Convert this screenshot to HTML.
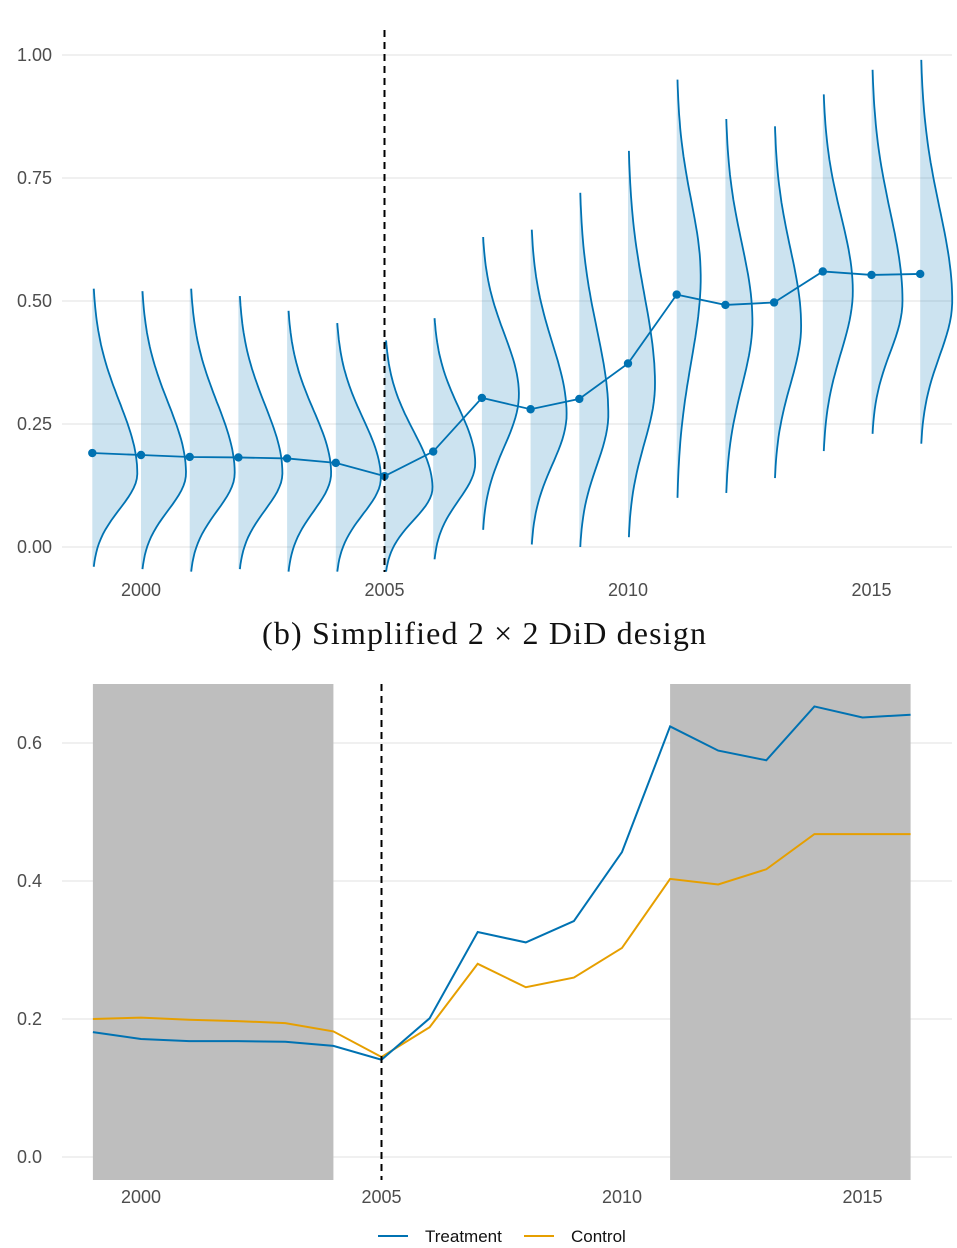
<!DOCTYPE html>
<html><head><meta charset="utf-8"><style>
body{margin:0;background:#fff;}
svg{display:block;font-family:"Liberation Sans",sans-serif;}
</style></head><body>
<svg width="957" height="1248" viewBox="0 0 957 1248">
<g id="top"></g>
<text x="262" y="644" textLength="444" lengthAdjust="spacing" font-family="'Liberation Serif',serif" font-size="32" fill="#111">(b) Simplified 2 × 2 DiD design</text>
<g id="bot"></g>
</svg>
<script>
const NS='http://www.w3.org/2000/svg';
const years=[1999,2000,2001,2002,2003,2004,2005,2006,2007,2008,2009,2010,2011,2012,2013,2014,2015,2016];
const means=[0.191,0.187,0.183,0.182,0.180,0.171,0.144,0.194,0.303,0.280,0.301,0.373,0.513,0.492,0.497,0.560,0.553,0.555];
const densMax=[0.525,0.52,0.525,0.51,0.48,0.455,0.42,0.465,0.63,0.645,0.72,0.805,0.95,0.87,0.855,0.92,0.97,0.99];
const densMin=[-0.04,-0.045,-0.05,-0.045,-0.05,-0.05,-0.05,-0.025,0.035,0.005,0.0,0.02,0.1,0.11,0.14,0.195,0.23,0.21];
const densPeak=[0.15,0.15,0.15,0.15,0.15,0.14,0.12,0.17,0.31,0.27,0.27,0.33,0.55,0.46,0.45,0.52,0.50,0.50];
const densWidth=[45,45,45,44,44,45,48,42,37,36,29,27,24,27,27,30,31,32];
const topTicks=[0,0.25,0.5,0.75,1.0];
const topTickLabels=['0.00','0.25','0.50','0.75','1.00'];
const xTicks=[2000,2005,2010,2015];
const treatment=[0.181,0.171,0.168,0.168,0.167,0.161,0.141,0.201,0.326,0.311,0.342,0.442,0.624,0.589,0.575,0.653,0.637,0.641];
const control=[0.200,0.202,0.199,0.197,0.194,0.182,0.145,0.188,0.280,0.246,0.260,0.303,0.403,0.395,0.417,0.468,0.468,0.468];
const botTicks=[0,0.2,0.4,0.6];
const botTickLabels=['0.0','0.2','0.4','0.6'];
const shadeRanges=[[1999,2004],[2011,2016]];

function el(p,tag,a){const e=document.createElementNS(NS,tag);for(const k in a)e.setAttribute(k,a[k]);p.appendChild(e);return e;}
const BLUE='#0072B2',ORANGE='#E69F00';

const T=document.getElementById('top');
const tx=y=>141+(y-2000)*48.7;
const ty=v=>547-v*492;
topTicks.forEach((v,i)=>{
  const g=el(T,'line',{x1:62,x2:952,y1:ty(v),y2:ty(v),stroke:'#ebebeb','stroke-width':1.5});
  
  const t=el(T,'text',{x:52,y:ty(v)+6,'text-anchor':'end','font-size':18,fill:'#4d4d4d'});
  t.textContent=topTickLabels[i];
  
});
xTicks.forEach(y=>{
  const t=el(T,'text',{x:tx(y),y:596,'text-anchor':'middle','font-size':18,fill:'#4d4d4d'});
  t.textContent=y;
  
});
years.forEach((yr,i)=>{
  const x0=tx(yr),pts=[];
  const N=60;
  for(let k=0;k<=N;k++){
    const v=densMax[i]-(densMax[i]-densMin[i])*k/N;
    const sd=v>densPeak[i]?(densMax[i]-densPeak[i])/2.6:(densPeak[i]-densMin[i])/2.6;
    const w=densWidth[i]*Math.exp(-0.5*Math.pow((v-densPeak[i])/sd,2));
    pts.push([x0+w,ty(v)]);
  }
  const d='M'+x0+','+ty(densMax[i])+' '+pts.map(p=>'L'+p[0].toFixed(1)+','+p[1].toFixed(1)).join(' ')+' L'+x0+','+ty(densMin[i])+'Z';
  const a=el(T,'path',{d:d,fill:'rgba(0,114,178,0.2)',stroke:'none'});
  
  const l=el(T,'path',{d:'M'+pts.map(p=>p[0].toFixed(1)+','+p[1].toFixed(1)).join(' L'),fill:'none',stroke:BLUE,'stroke-width':1.8});
  
});
const ml=el(T,'polyline',{points:years.map((y,i)=>tx(y)+','+ty(means[i])).join(' '),fill:'none',stroke:BLUE,'stroke-width':1.8});

years.forEach((y,i)=>{
  const c=el(T,'circle',{cx:tx(y),cy:ty(means[i]),r:4.2,fill:BLUE});
  
});
const dv=el(T,'line',{x1:tx(2005),x2:tx(2005),y1:30,y2:572,stroke:'#000','stroke-width':2,'stroke-dasharray':'7,5'});


const B=document.getElementById('bot');
const bx=y=>141+(y-2000)*48.1;
const by=v=>1157-v*690;
botTicks.forEach((v,i)=>{
  const g=el(B,'line',{x1:62,x2:952,y1:by(v),y2:by(v),stroke:'#ebebeb','stroke-width':1.5});
  
  const t=el(B,'text',{x:42,y:by(v)+6,'text-anchor':'end','font-size':18,fill:'#4d4d4d'});
  t.textContent=botTickLabels[i];
  
});
shadeRanges.forEach(r=>{
  const s=el(B,'rect',{x:bx(r[0]),y:684,width:bx(r[1])-bx(r[0]),height:496,fill:'#bebebe'});
  
});
xTicks.forEach(y=>{
  const t=el(B,'text',{x:bx(y),y:1203,'text-anchor':'middle','font-size':18,fill:'#4d4d4d'});
  t.textContent=y;
  
});
const cl=el(B,'polyline',{points:years.map((y,i)=>bx(y)+','+by(control[i])).join(' '),fill:'none',stroke:ORANGE,'stroke-width':2});

const tl=el(B,'polyline',{points:years.map((y,i)=>bx(y)+','+by(treatment[i])).join(' '),fill:'none',stroke:BLUE,'stroke-width':2});

const dv2=el(B,'line',{x1:bx(2005),x2:bx(2005),y1:684,y2:1180,stroke:'#000','stroke-width':2,'stroke-dasharray':'7,5'});

const lg=el(B,'g',{});

el(lg,'line',{x1:378,x2:408,y1:1236,y2:1236,stroke:BLUE,'stroke-width':2});
const lt1=el(lg,'text',{x:425,y:1242,'font-size':17,fill:'#111'});lt1.textContent='Treatment';

el(lg,'line',{x1:524,x2:554,y1:1236,y2:1236,stroke:ORANGE,'stroke-width':2});
const lt2=el(lg,'text',{x:571,y:1242,'font-size':17,fill:'#111'});lt2.textContent='Control';

</script>
</body></html>
